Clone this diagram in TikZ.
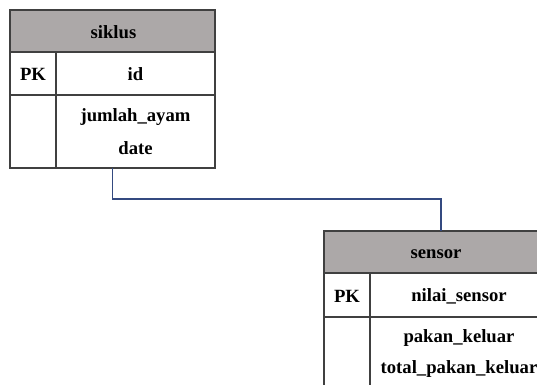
\documentclass[tikz,border=0pt]{standalone}
\usepackage{fontspec}
\setmainfont{Liberation Serif}
\usepackage{tikz}
\usetikzlibrary{positioning}

\definecolor{hdrgray}{RGB}{172,168,168}
\definecolor{boxline}{RGB}{64,64,64}
\definecolor{linkblue}{RGB}{52,74,128}

\tikzset{
  tbl/.style={draw=boxline,line width=1.1pt},
  hdr/.style={tbl,fill=hdrgray},
  fld/.style={inner sep=0.75pt,font=\bfseries\fontsize{14}{16}\selectfont},
  link/.style={draw=linkblue,line width=0.8pt}
}

\begin{document}
\begin{tikzpicture}[x=0.75pt,y=0.75pt,yscale=-1,xscale=1]
\useasboundingbox (0,0) rectangle (537,385);
\clip (0,0) rectangle (537,385);

%Table siklus
\draw [hdr] (10,10) rectangle (215,52) ;
\draw [tbl] (10,52) rectangle (215,168) ;
\draw [tbl] (10,95) -- (215,95) ;
\draw [tbl] (56,52) -- (56,168) ;
\coordinate (siklusbot) at (112.5,168) ;

%Table sensor
\draw [hdr] (324,231) rectangle (560,273) ;
\draw [tbl] (324,273) rectangle (560,400) ;
\draw [tbl] (324,317) -- (560,317) ;
\draw [tbl] (370,273) -- (370,400) ;
\coordinate (sensortop) at (441,231) ;

%Relation
\draw [link] (siklusbot) -- ++(0,31) -| (sensortop) ;

% Text Node
\node [fld] (siklus) at (113.5,32) {siklus};
% Text Node
\node [fld] (pk1) at (33,74) {PK};
% Text Node
\node [fld] (id) at (135.5,74) {id};
% Text Node
\node [fld] (jumlah) at (135.5,117) {jumlah\_ayam};
% Text Node
\node [fld] (date) at (135.5,148) {date};
% Text Node
\node [fld] (sensor) at (436,254) {sensor};
% Text Node
\node [fld] (pk2) at (347,296) {PK};
% Text Node
\node [fld] (nilai) at (459,296) {nilai\_sensor};
% Text Node
\node [fld] (pakan) at (459,338) {pakan\_keluar};
% Text Node
\node [fld] (total) at (459,369) {total\_pakan\_keluar};
\end{tikzpicture}
\end{document}
